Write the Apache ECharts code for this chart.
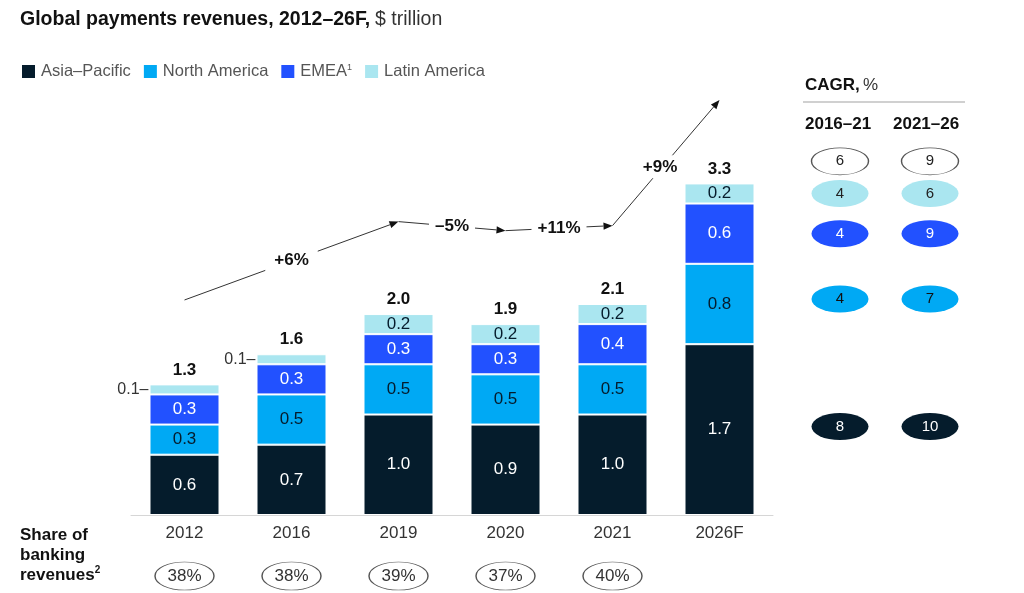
<!DOCTYPE html>
<html>
<head>
<meta charset="utf-8">
<script src="https://cdn.jsdelivr.net/npm/echarts@6.0.0/dist/echarts.min.js"></script>
<style>
  html, body { margin: 0; padding: 0; background: #fff; }
  #chart { width: 1024px; height: 593px; }
</style>
</head>
<body>
<div id="chart"></div>
<script>
// Global payments revenues by region, $ trillion
const years = ['2012', '2016', '2019', '2020', '2021', '2026F'];
const asiaPacific  = [0.6, 0.7, 1.0, 0.9, 1.0, 1.7];
const northAmerica = [0.3, 0.5, 0.5, 0.5, 0.5, 0.8];
const emea         = [0.3, 0.3, 0.3, 0.3, 0.4, 0.6];
const latinAmerica = [0.1, 0.1, 0.2, 0.2, 0.2, 0.2];
const totals       = [1.3, 1.6, 2.0, 1.9, 2.1, 3.3];

// Payments share of banking revenues (no value for the forecast year)
const bankingShare = ['38%', '38%', '39%', '37%', '40%', null];

// Growth between selected years
const growthFrom   = ['2012', '2019', '2020', '2021'];
const growthTo     = ['2019', '2020', '2021', '2026F'];
const growthLabels = ['+6%', '–5%', '+11%', '+9%'];

// CAGR, %
const cagrPeriods = ['2016–21', '2021–26'];
const cagrTotal   = [6, 9];
const cagrLatAm   = [4, 6];
const cagrEmea    = [4, 9];
const cagrNorthAm = [4, 7];
const cagrAsia    = [8, 10];

const FONT = "'Liberation Sans', Arial, sans-serif";
const C_ASIA = '#051c2c', C_NA = '#00a9f4', C_EMEA = '#2251ff', C_LATAM = '#aae6f0';

const Y_MAX = 4.2;
const GRID_TOP = 93, GRID_BOTTOM = 78;

const chart = echarts.init(document.getElementById('chart'), null, { renderer: 'canvas' });

function segLabel(color) {
  return { show: true, position: 'inside', color: color, fontSize: 17, fontFamily: FONT,
           formatter: p => p.value.toFixed(1) };
}

function barSeries(name, data, color, labelColor) {
  return {
    name, type: 'bar', stack: 'rev', barWidth: 70, data: data,
    itemStyle: { color, borderColor: '#fff', borderWidth: 1 },
    label: segLabel(labelColor),
    emphasis: { disabled: true }
  };
}

// Latin America: very small segments get their value printed to the left
const latamData = latinAmerica.map(v => v < 0.15 ? {
  value: v,
  label: { position: 'left', distance: 1, color: '#333', fontSize: 16, formatter: p => p.value.toFixed(1) + '–' }
} : v);

// CAGR bubbles aligned with the 2026F segments
const last = years.length - 1;
const base = [0, asiaPacific[last], asiaPacific[last] + northAmerica[last],
              asiaPacific[last] + northAmerica[last] + emea[last]];
const cagrRows = [
  { vals: cagrTotal,   y: totals[last] + 0.22, fill: '#fff', border: '#555', text: '#222' },
  { vals: cagrLatAm,   y: base[3] + latinAmerica[last] / 2, fill: C_LATAM, text: '#222' },
  { vals: cagrEmea,    y: base[2] + emea[last] / 2, fill: C_EMEA, text: '#fff' },
  { vals: cagrNorthAm, y: base[1] + northAmerica[last] / 2 + 0.05, fill: C_NA, text: '#111' },
  { vals: cagrAsia,    y: asiaPacific[last] / 2 + 0.03, fill: C_ASIA, text: '#fff' }
];
const cagrData = [];
cagrRows.forEach(r => r.vals.forEach((v, i) => {
  cagrData.push({
    value: [cagrPeriods[i], r.y, v],
    itemStyle: { color: r.fill, opacity: 1, borderColor: r.border || r.fill, borderWidth: r.border ? 1 : 0 },
    label: { color: r.text }
  });
}));

const staticGraphics = [
  { type: 'text', left: 20, top: 527, style: {
      text: '{b|Share of}\n{b|banking}\n{b|revenues}{s|2}',
      rich: { b: { fontFamily: FONT, fontWeight: 'bold', fontSize: 17, fill: '#111', lineHeight: 20 },
              s: { fontFamily: FONT, fontWeight: 'bold', fontSize: 10, fill: '#111', verticalAlign: 'top', lineHeight: 20, padding: [0, 0, 8, 0] } } } },
  { type: 'text', left: 805, top: 77, style: {
      text: '{b|CAGR,} {r|%}',
      rich: { b: { fontFamily: FONT, fontWeight: 'bold', fontSize: 17, fill: '#111' },
              r: { fontFamily: FONT, fontWeight: 'normal', fontSize: 17, fill: '#333' } } } },
  { type: 'line', shape: { x1: 803, y1: 102, x2: 965, y2: 102 }, style: { stroke: '#d0d0d0', lineWidth: 2 } },
  { type: 'text', left: 805, top: 116, style: { text: cagrPeriods[0], font: 'bold 17px ' + FONT, fill: '#111' } },
  { type: 'text', left: 893, top: 116, style: { text: cagrPeriods[1], font: 'bold 17px ' + FONT, fill: '#111' } }
];

const option = {
  animation: false,
  backgroundColor: '#fff',
  textStyle: { fontFamily: FONT },
  title: {
    left: 15, top: 5,
    text: '{b|Global payments revenues, 2012–26F,} {r|$ trillion}',
    textStyle: { fontWeight: 'normal', rich: {
      b: { fontFamily: FONT, fontWeight: 'bold', fontSize: 19.5, color: '#111' },
      r: { fontFamily: FONT, fontWeight: 'normal', fontSize: 19.5, color: '#333' } } }
  },
  legend: {
    left: 15, top: 58, icon: 'rect', itemWidth: 15, itemHeight: 15, itemGap: 11,
    selectedMode: false,
    data: ['Asia–Pacific', 'North America', 'EMEA', 'Latin America'],
    formatter: n => n === 'EMEA' ? '{t|EMEA}{s|1}' : '{t|' + n + '}',
    textStyle: { rich: {
      t: { fontFamily: FONT, fontSize: 16.5, color: '#555' },
      s: { fontFamily: FONT, fontSize: 9, color: '#555', verticalAlign: 'top', padding: [0, 0, 8, 0] } } }
  },
  grid: [
    { left: 131, right: 251, top: GRID_TOP, bottom: GRID_BOTTOM },
    { left: 795, width: 180, top: GRID_TOP, bottom: GRID_BOTTOM },
    { left: 131, right: 251, top: 562, height: 28 }
  ],
  xAxis: [
    { gridIndex: 0, type: 'category', data: years,
      axisLine: { lineStyle: { color: '#d6d6d6', width: 1 } }, axisTick: { show: false },
      axisLabel: { color: '#333', fontSize: 17, fontFamily: FONT, margin: 10 } },
    { gridIndex: 1, type: 'category', data: cagrPeriods, show: false },
    { gridIndex: 2, type: 'category', data: years, show: false }
  ],
  yAxis: [
    { gridIndex: 0, type: 'value', min: 0, max: Y_MAX, show: false, splitLine: { show: false } },
    { gridIndex: 1, type: 'value', min: 0, max: Y_MAX, show: false, splitLine: { show: false } },
    { gridIndex: 2, type: 'value', min: 0, max: 1, show: false, splitLine: { show: false } }
  ],
  series: [
    barSeries('Asia–Pacific', asiaPacific, C_ASIA, '#fff'),
    barSeries('North America', northAmerica, C_NA, '#051c2c'),
    barSeries('EMEA', emea, C_EMEA, '#fff'),
    barSeries('Latin America', latamData, C_LATAM, '#051c2c'),
    {
      name: 'Total', type: 'bar', barWidth: 70, barGap: '-100%', data: totals, silent: true,
      itemStyle: { color: 'rgba(0,0,0,0)' },
      label: { show: true, position: 'top', distance: 6, color: '#111', fontWeight: 'bold',
               fontSize: 17, fontFamily: FONT, formatter: p => p.value.toFixed(1) },
      z: 1
    },
    {
      name: 'CAGR', type: 'scatter', xAxisIndex: 1, yAxisIndex: 1, data: cagrData,
      symbol: 'circle', symbolSize: [57, 27], silent: true,
      itemStyle: { opacity: 1 },
      label: { show: true, position: 'inside', fontSize: 15, fontFamily: FONT,
               formatter: p => String(p.value[2]) }
    },
    {
      name: 'Share of banking revenues', type: 'scatter', xAxisIndex: 2, yAxisIndex: 2, silent: true,
      data: bankingShare.map((s, i) => s ? { value: [years[i], 0.5, s] } : null).filter(Boolean),
      symbol: 'circle', symbolSize: [59, 28],
      itemStyle: { color: '#fff', opacity: 1, borderColor: '#555', borderWidth: 1 },
      label: { show: true, position: 'inside', color: '#333', fontSize: 17, fontFamily: FONT,
               formatter: p => p.value[2] }
    }
  ],
  graphic: staticGraphics
};

chart.setOption(option);

// Growth arrows between years, drawn over the plot
const ARROW_LEVEL = { '2012': 2.14, '2019': 2.92, '2020': 2.83, '2021': 2.88, '2026F': 4.13 };
function px(cat) { return chart.convertToPixel({ gridIndex: 0 }, [cat, ARROW_LEVEL[cat]]); }

const arrowGraphics = [];
growthFrom.forEach((from, i) => {
  const a = px(from), b = px(growthTo[i]);
  const ang = Math.atan2(b[1] - a[1], b[0] - a[0]);
  const L = 9, W = 3.6;
  const tip = b;
  const bx = tip[0] - L * Math.cos(ang), by = tip[1] - L * Math.sin(ang);
  arrowGraphics.push({ type: 'line', z: 50,
    shape: { x1: a[0], y1: a[1], x2: bx, y2: by }, style: { stroke: '#333', lineWidth: 1 } });
  arrowGraphics.push({ type: 'polygon', z: 50,
    shape: { points: [tip,
      [bx + W * Math.sin(ang), by - W * Math.cos(ang)],
      [bx - W * Math.sin(ang), by + W * Math.cos(ang)]] },
    style: { fill: '#111' } });
  arrowGraphics.push({ type: 'text', z: 51,
    x: (a[0] + b[0]) / 2 + (i === 3 ? -6 : 0), y: (a[1] + b[1]) / 2 + (i === 3 ? 4 : 0),
    style: { text: growthLabels[i], font: 'bold 17px ' + FONT, fill: '#111',
             align: 'center', verticalAlign: 'middle', backgroundColor: '#fff',
             padding: i === 0 ? [3, 9] : [3, 6] } });
});

chart.setOption({ graphic: staticGraphics.concat(arrowGraphics) }, { replaceMerge: ['graphic'] });
</script>
</body>
</html>
